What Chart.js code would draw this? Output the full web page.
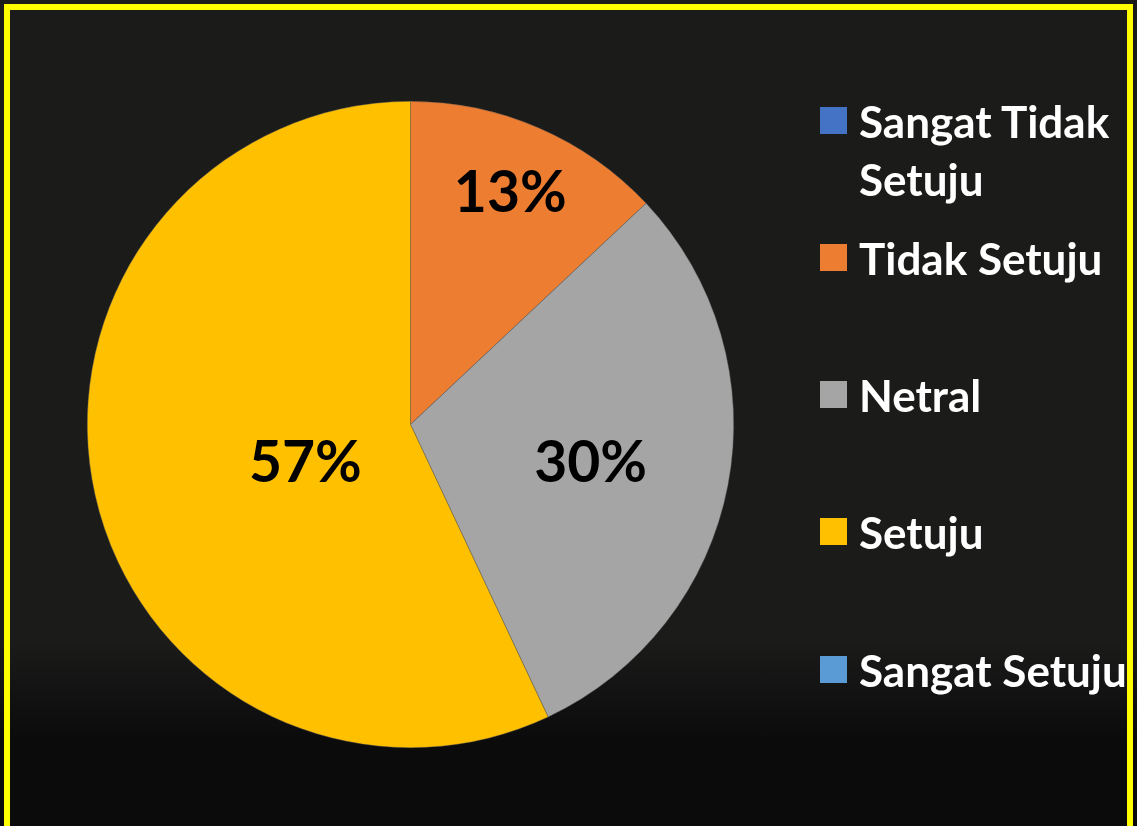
<!DOCTYPE html>
<html>
<head>
<meta charset="utf-8">
<script src="https://cdn.jsdelivr.net/npm/chart.js@4/dist/chart.umd.min.js"></script>
<style>
  html, body { margin: 0; padding: 0; }
  body {
    width: 1137px; height: 826px; overflow: hidden; position: relative;
    background: linear-gradient(to bottom, #1b1b1a 0px, #1b1b1a 640px, #131313 690px, #0b0b0b 740px, #0b0b0b 826px);
  }
  #frame {
    position: absolute; left: 4px; top: 4px; width: 1117px; height: 900px;
    border: 6px solid #ffff00; box-sizing: content-box;
  }
  #wrap { position: absolute; left: 0; top: 0; width: 1137px; height: 826px; }
  #legend { position: absolute; left: 820px; top: 0; width: 317px; height: 826px; overflow: visible; }
  .item { position: absolute; left: 0; width: 340px; }
  .sw { position: absolute; left: 0; top: 15px; width: 27px; height: 27px; }
  .tx {
    position: absolute; left: 39px; top: 0; width: 300px;
    font-family: Lato, "Open Sans", sans-serif; font-weight: bold; font-size: 44px;
    line-height: 58px; color: #ffffff;
  }
</style>
</head>
<body>
<div id="frame"></div>
<div id="wrap"><canvas id="c" width="1137" height="826"></canvas></div>
<div id="legend"></div>
<script>
const categories = ["Sangat Tidak Setuju", "Tidak Setuju", "Netral", "Setuju", "Sangat Setuju"];
const values = [0, 13, 30, 57, 0];
const colors = ["#4472C4", "#ED7D31", "#A5A5A5", "#FFC000", "#5B9BD5"];

// label placement per slice (style only): fraction of radius and angle shift in degrees
const labelRadius = [0.7, 0.777, 0.57, 0.347, 0.7];
const labelAngleShift = [0, 0, 1.4, -7.8, 0];
const legendCenters = [121, 258, 395, 532, 670];

const labelPlugin = {
  id: 'pctLabels',
  afterDatasetsDraw(chart) {
    const ctx = chart.ctx;
    const meta = chart.getDatasetMeta(0);
    const ds = chart.data.datasets[0];
    const total = ds.data.reduce((a, b) => a + b, 0);
    ctx.save();
    ctx.font = 'bold 57px Lato, "Open Sans", sans-serif';
    ctx.fillStyle = '#000000';
    ctx.textAlign = 'center';
    ctx.textBaseline = 'middle';
    meta.data.forEach((arc, i) => {
      const v = ds.data[i];
      if (!v) return;
      const p = arc.getProps(['x', 'y', 'startAngle', 'endAngle', 'outerRadius'], true);
      const mid = (p.startAngle + p.endAngle) / 2 + labelAngleShift[i] * Math.PI / 180;
      const r = p.outerRadius * labelRadius[i];
      const x = p.x + Math.cos(mid) * r;
      const y = p.y + Math.sin(mid) * r;
      ctx.fillText(Math.round(v / total * 100) + '%', x, y);
    });
    ctx.restore();
  }
};

const chart = new Chart(document.getElementById('c'), {
  type: 'pie',
  data: {
    labels: categories,
    datasets: [{
      data: values,
      backgroundColor: colors,
      borderColor: 'rgba(90,90,90,0.7)',
      borderWidth: 0.6
    }]
  },
  options: {
    responsive: false,
    animation: false,
    layout: { padding: { left: 87, right: 403, top: 101, bottom: 78 } },
    plugins: { legend: { display: false }, tooltip: { enabled: false } }
  },
  plugins: [labelPlugin]
});

// HTML legend built from chart data
const legend = document.getElementById('legend');
chart.data.labels.forEach((lab, i) => {
  const item = document.createElement('div');
  item.className = 'item';
  item.style.top = (legendCenters[i] - 29) + 'px';
  const sw = document.createElement('div');
  sw.className = 'sw';
  sw.style.background = chart.data.datasets[0].backgroundColor[i];
  const tx = document.createElement('div');
  tx.className = 'tx';
  tx.textContent = lab;
  item.appendChild(sw);
  item.appendChild(tx);
  legend.appendChild(item);
});
</script>
</body>
</html>
